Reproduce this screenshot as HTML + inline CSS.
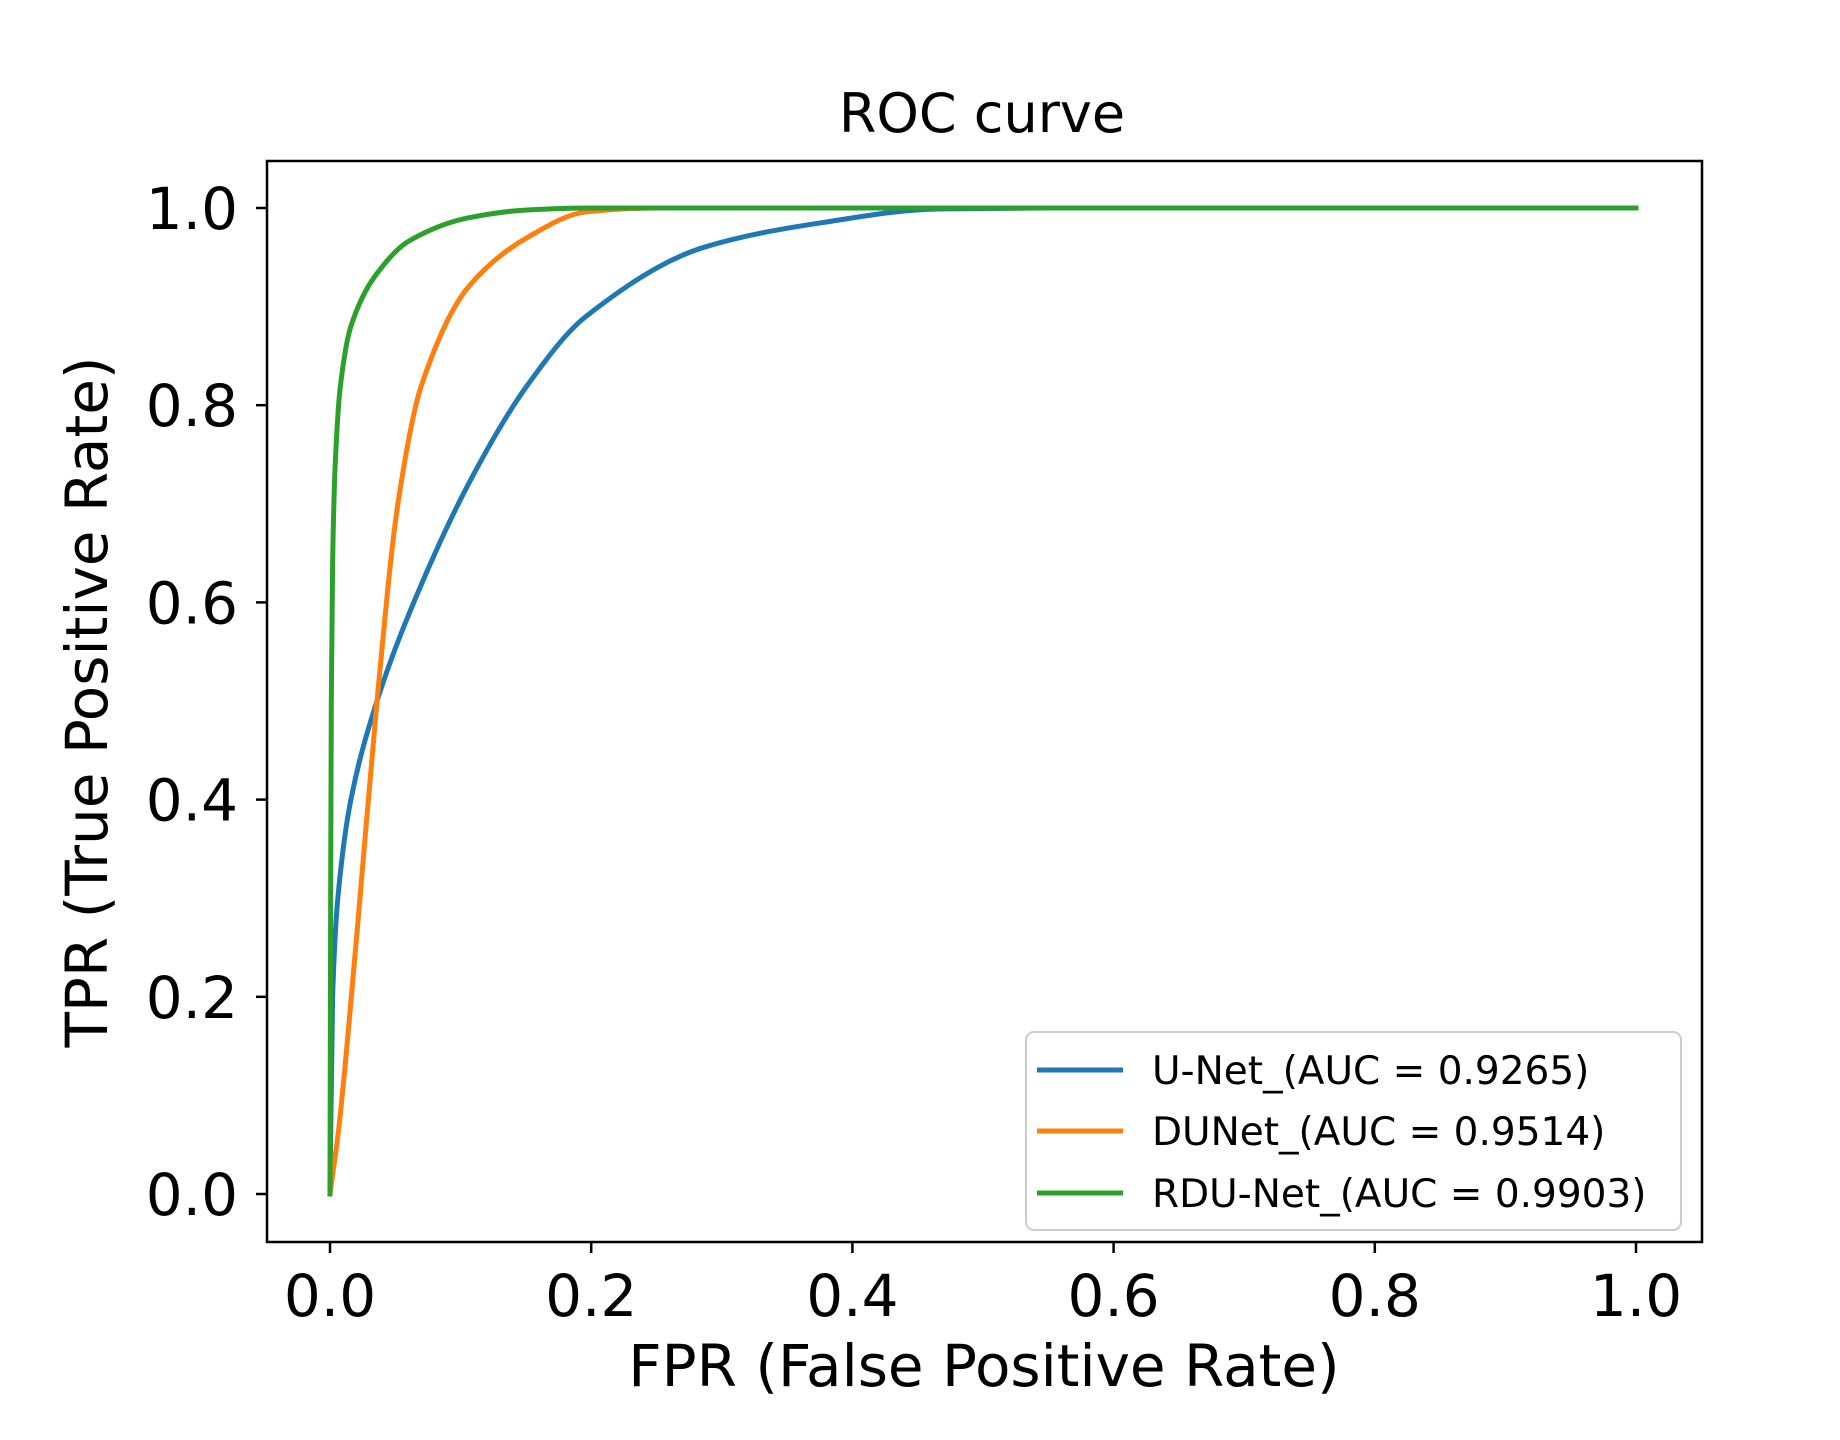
<!DOCTYPE html>
<html><head><meta charset="utf-8"><style>
html,body{margin:0;padding:0;background:#fff;}
svg{display:block;font-family:"DejaVu Sans","Liberation Sans",sans-serif;}
</style></head><body>
<svg id="chart" width="1840" height="1440" viewBox="0 0 1840 1440">
<rect x="0" y="0" width="1840" height="1440" fill="#fff"/>
<text x="982" y="132" font-size="54" text-anchor="middle" fill="#000">ROC curve</text>
<g id="plot"></g>
<rect x="267" y="161" width="1435" height="1081" fill="none" stroke="#000" stroke-width="2.5"/>
<text x="984" y="1386" font-size="58" text-anchor="middle" fill="#000">FPR (False Positive Rate)</text>
<text transform="translate(107,702) rotate(-90)" font-size="58" text-anchor="middle" fill="#000">TPR (True Positive Rate)</text>
<g id="legend">
<rect x="1026" y="1032" width="655" height="198" rx="8" fill="#fff" fill-opacity="0.8" stroke="#ccc" stroke-width="2"/>
</g>
</svg>
<script>
const xTicks=[0,0.2,0.4,0.6,0.8,1.0];
const yTicks=[0,0.2,0.4,0.6,0.8,1.0];
const tickLabels=["0.0","0.2","0.4","0.6","0.8","1.0"];
const seriesNames=["U-Net_(AUC = 0.9265)","DUNet_(AUC = 0.9514)","RDU-Net_(AUC = 0.9903)"];
const seriesColors=["#1f77b4","#ff7f0e","#2ca02c"];
const unetX=[0,0.002,0.006,0.016,0.036,0.061,0.106,0.151,0.196,0.286,0.376,0.465,0.55,1.0];
const unetY=[0,0.2,0.3,0.4,0.5,0.59,0.72,0.82,0.89,0.96,0.985,0.999,1.0,1.0];
const dunetX=[0,0.007,0.021,0.036,0.052,0.07,0.106,0.151,0.196,0.25,1.0];
const dunetY=[0,0.07,0.27,0.5,0.7,0.82,0.92,0.97,0.996,1.0,1.0];
const rdunetX=[0,0.0005,0.001,0.002,0.004,0.008,0.016,0.034,0.061,0.106,0.151,0.2,1.0];
const rdunetY=[0,0.3,0.5,0.64,0.74,0.82,0.88,0.93,0.967,0.99,0.998,1.0,1.0];
const seriesX=[unetX,dunetX,rdunetX];
const seriesY=[unetY,dunetY,rdunetY];

const NS="http://www.w3.org/2000/svg";
const X0=330,X1=1636,Y0=1194,Y1=208;
function sx(v){return X0+(X1-X0)*v;}
function sy(v){return Y0-(Y0-Y1)*v;}
const plot=document.getElementById('plot');
const svg=document.getElementById('chart');
function mk(tag,attrs,parent){const e=document.createElementNS(NS,tag);for(const k in attrs)e.setAttribute(k,attrs[k]);(parent||svg).appendChild(e);return e;}

xTicks.forEach((v,i)=>{
  const t=mk('line',{x1:sx(v),x2:sx(v),y1:1242,y2:1253,stroke:'#000','stroke-width':2.5});
  
  
  const l=mk('text',{x:sx(v),y:1316,'font-size':58,'text-anchor':'middle',fill:'#000'});
  l.textContent=tickLabels[i];
  
  
});
yTicks.forEach((v,i)=>{
  const t=mk('line',{x1:256,x2:267,y1:sy(v),y2:sy(v),stroke:'#000','stroke-width':2.5});
  
  
  const l=mk('text',{x:238,y:sy(v)+21,'font-size':58,'text-anchor':'end',fill:'#000'});
  l.textContent=tickLabels[i];
  
  
});

function smoothPath(xs,ys){
  const p=xs.map((x,i)=>[sx(x),sy(ys[i])]);
  const n=p.length;
  const dx=[],m=[],d=[];
  for(let i=0;i<n-1;i++){dx.push(p[i+1][0]-p[i][0]);d.push((p[i+1][1]-p[i][1])/(dx[i]||1e-6));}
  m[0]=d[0];m[n-1]=d[n-2];
  for(let i=1;i<n-1;i++){m[i]=(d[i-1]*d[i]<=0)?0:2/(1/d[i-1]+1/d[i]);}
  let s='M'+p[0][0]+','+p[0][1];
  for(let i=0;i<n-1;i++){const h=dx[i]/3;s+=' C'+(p[i][0]+h)+','+(p[i][1]+m[i]*h)+' '+(p[i+1][0]-h)+','+(p[i+1][1]-m[i+1]*h)+' '+p[i+1][0]+','+p[i+1][1];}
  return s;
}
const lineNames=['unet-roc-line','dunet-roc-line','rdunet-roc-line'];
seriesX.forEach((xs,k)=>{
  const path=mk('path',{d:smoothPath(xs,seriesY[k]),fill:'none',stroke:seriesColors[k],'stroke-width':5,'stroke-linejoin':'round','stroke-linecap':'square'},plot);
  
  
});

const legend=document.getElementById('legend');
const rowY=[1070,1131,1193];
seriesNames.forEach((name,k)=>{
  const ln=mk('line',{x1:1037,x2:1123,y1:rowY[k],y2:rowY[k],stroke:seriesColors[k],'stroke-width':5},legend);
  
  
  const tx=mk('text',{x:1152,y:rowY[k]+14,'font-size':39,fill:'#000'},legend);
  tx.textContent=name;
  
  
});
</script>
</body></html>
